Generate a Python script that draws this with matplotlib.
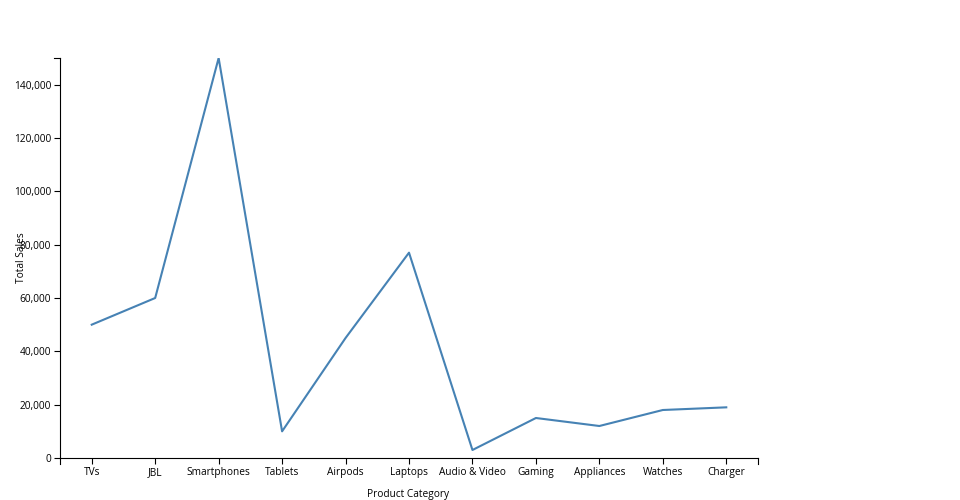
import matplotlib
matplotlib.use("Agg")
import matplotlib.pyplot as plt
from matplotlib.ticker import FuncFormatter

plt.rcParams['font.family'] = ['Open Sans', 'DejaVu Sans']

categories = ['TVs', 'JBL', 'Smartphones', 'Tablets', 'Airpods', 'Laptops',
              'Audio & Video', 'Gaming', 'Appliances', 'Watches', 'Charger']
total_sales = [50000, 60000, 150000, 10000, 45000, 77000,
               3000, 15000, 12000, 18000, 19000]
y_ticks = [0, 20000, 40000, 60000, 80000, 100000, 120000, 140000]

W, H = 960, 500
fig = plt.figure(figsize=(W / 100, H / 100), dpi=100)
ax = fig.add_axes([60 / W, 1 - 458 / H, (758 - 60) / W, (458 - 58) / H])

n = len(categories)
x = [i + 0.5 for i in range(n)]
ax.plot(x, total_sales, color='#4682b4', linewidth=1.5)

ax.set_xlim(0, n)
ax.set_ylim(0, 150000)
ax.set_xticks(x)
ax.set_xticklabels(categories)
ax.set_yticks(y_ticks)
ax.yaxis.set_major_formatter(FuncFormatter(lambda v, p: f'{int(v):,}'))

for s in ['top', 'right']:
    ax.spines[s].set_visible(False)
for s in ['left', 'bottom']:
    ax.spines[s].set_linewidth(0.8)
    ax.spines[s].set_color('black')
ax.tick_params(axis='both', length=4.3, width=0.8, labelsize=7.3, pad=2.0,
               colors='black')

# outer ticks like d3 axis domain
ax.plot([0, 0], [0, -6 / (458 - 58)], transform=ax.transAxes, color='black',
        linewidth=0.8, clip_on=False)
ax.plot([1, 1], [0, -6 / (458 - 58)], transform=ax.transAxes, color='black',
        linewidth=0.8, clip_on=False)
ax.plot([0, -6 / (758 - 60)], [1, 1], transform=ax.transAxes, color='black',
        linewidth=0.8, clip_on=False)

fig.text(408 / W, 1 - 494 / H, 'Product Category', ha='center', va='center',
         fontsize=7.3)
fig.text(22 / W, 1 - 258 / H, 'Total Sales', ha='center', va='center',
         rotation=90, fontsize=7.3)

fig.savefig('out.png', dpi=100)
